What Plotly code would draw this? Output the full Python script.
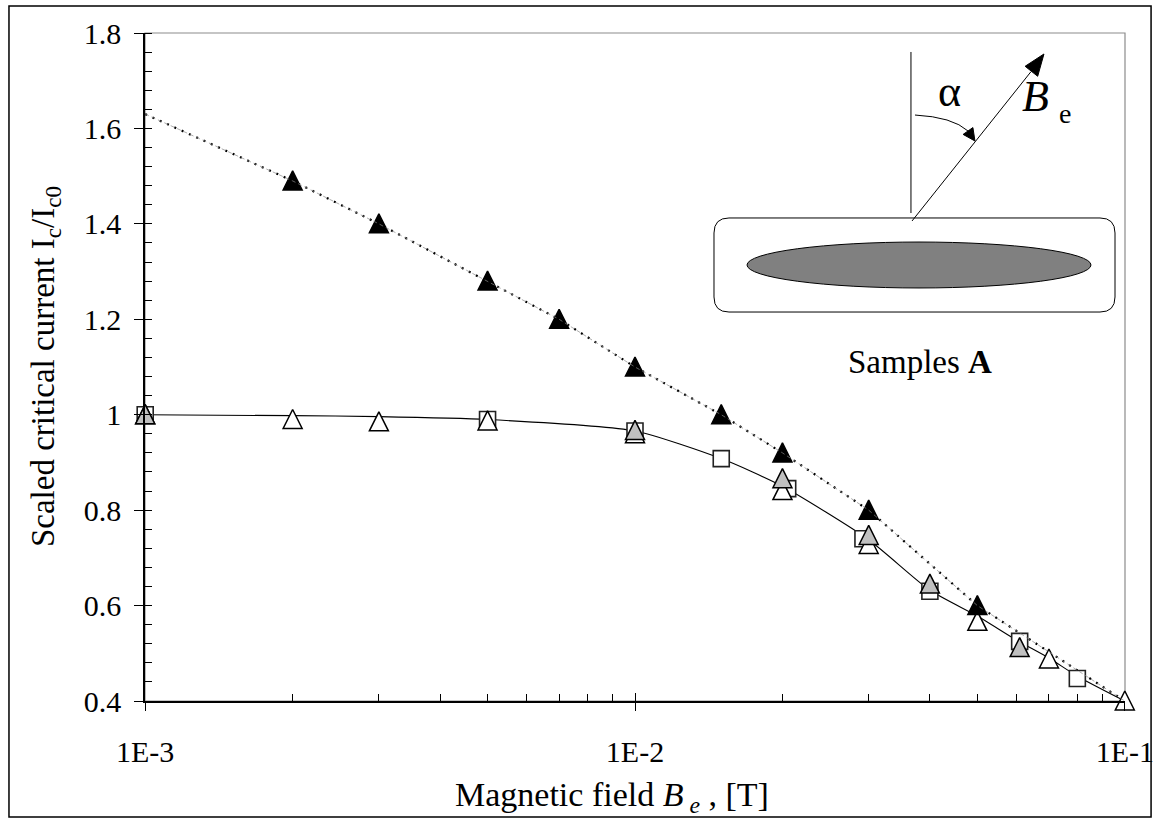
import plotly.graph_objects as go

# ---- measured data ------------------------------------------------------
# alpha-dependent critical current, scaled by the zero-field value
field_black = [2e-3, 3e-3, 5e-3, 7e-3, 1e-2, 1.5e-2, 2e-2, 3e-2, 5e-2]
ic_black = [1.49, 1.40, 1.28, 1.20, 1.10, 1.00, 0.92, 0.80, 0.60]

field_open = [1e-3, 2e-3, 3e-3, 5e-3, 1e-2, 2e-2, 3e-2, 5e-2, 7e-2, 1e-1]
ic_open = [1.00, 0.99, 0.985, 0.987, 0.96, 0.841, 0.728, 0.567, 0.488, 0.40]

field_gray = [1e-3, 1e-2, 2e-2, 3e-2, 4e-2, 6.1e-2]
ic_gray = [1.00, 0.967, 0.866, 0.747, 0.645, 0.512]

field_square = [1e-3, 5e-3, 1e-2, 1.5e-2, 2.05e-2, 2.92e-2, 4e-2, 6.1e-2, 8e-2]
ic_square = [1.00, 0.99, 0.966, 0.908, 0.845, 0.74, 0.63, 0.525, 0.447]

# guide curves
field_fit = [1e-3, 2e-3, 3e-3, 5e-3, 7e-3, 1e-2, 1.5e-2, 2e-2, 3e-2, 5e-2, 1e-1]
ic_fit = [1.63, 1.49, 1.40, 1.28, 1.20, 1.10, 1.00, 0.92, 0.80, 0.60, 0.40]

field_curve = [1e-3, 2e-3, 3e-3, 5e-3, 1e-2, 1.5e-2, 2e-2, 3e-2, 4e-2, 5e-2,
               6e-2, 7e-2, 8e-2, 1e-1]
ic_curve = [1.00, 0.998, 0.996, 0.99, 0.966, 0.908, 0.85, 0.738, 0.632, 0.578,
            0.528, 0.49, 0.452, 0.40]

x_tickvals = [1e-3, 1e-2, 1e-1]
x_ticktext = ["1E-3", "1E-2", "1E-1"]
x_minor = [m * d for d in (1e-3, 1e-2) for m in range(2, 10)]

# ---- styling --------------------------------------------------------------
FONT = "Liberation Serif, Times New Roman, DejaVu Serif, serif"
X_RANGE = [-3.0004, -0.9996]   # log10 decades, padded so edge points stay drawn
Y_RANGE = [0.4, 1.8]
PLOT_H = 668          # plot-area height in px
TRI = 19              # triangle marker size (px)
# arrow-up markers hang below their tip; a shifted twin axis centres them
shift = (TRI / 2 + 0.5) * (Y_RANGE[1] - Y_RANGE[0]) / PLOT_H

fig = go.Figure()

fig.add_trace(go.Scatter(x=field_fit, y=ic_fit, mode="lines", xaxis="x2",
                         line=dict(color="#8a8a8a", width=0.7, dash="4px,3px"),
                         hoverinfo="skip", showlegend=False))
fig.add_trace(go.Scatter(x=field_fit, y=ic_fit, mode="lines",
                         line=dict(color="black", width=2.2, dash="2px,6px"),
                         showlegend=False))
fig.add_trace(go.Scatter(x=field_curve, y=ic_curve, mode="lines",
                         line=dict(color="black", width=1.1, shape="spline",
                                   smoothing=0.6),
                         showlegend=False))

fig.add_trace(go.Scatter(x=field_square, y=ic_square, mode="markers",
                         cliponaxis=False,
                         marker=dict(symbol="square", size=16, color="white",
                                     line=dict(color="#222222", width=1.6)),
                         showlegend=False))

tri_sets = [
    (field_open, ic_open, "white"),
    (field_gray, ic_gray, "#c0c0c0"),
    (field_black, ic_black, "black"),
]
for xs, ys, fill in tri_sets:
    fig.add_trace(go.Scatter(x=xs, y=ys, mode="markers", yaxis="y2",
                             cliponaxis=False,
                             marker=dict(symbol="arrow-up", size=TRI, color=fill,
                                         line=dict(color="black", width=1.5)),
                             showlegend=False))

tick_font = dict(family=FONT, size=30, color="black")

fig.update_layout(
    width=1155, height=821,
    margin=dict(l=145, r=30, t=33, b=120, autoexpand=False),
    paper_bgcolor="white", plot_bgcolor="white",
    font=dict(family=FONT, color="black"),
    xaxis=dict(type="log", range=X_RANGE, tickvals=x_tickvals, ticktext=x_ticktext,
               ticks="outside", ticklen=8, tickwidth=1.2, tickcolor="black",
               showline=True, linecolor="black", linewidth=1.5,
               showgrid=False, zeroline=False, tickfont=tick_font,
               ticklabelstandoff=15, ticklabeloverflow="allow", automargin=False,
               minor=dict(ticks="inside", ticklen=7, tickwidth=1, tickcolor="black",
                          tickvals=x_minor, showgrid=False)),
    xaxis2=dict(type="log", range=X_RANGE, overlaying="x", anchor="y", side="bottom",
                tickvals=x_tickvals, ticks="inside", ticklen=8, tickwidth=1.2,
                tickcolor="black", showticklabels=False, showline=False,
                showgrid=False, zeroline=False, automargin=False),
    yaxis=dict(range=Y_RANGE, tick0=0.4, dtick=0.2, ticks="outside", ticklen=9,
               tickwidth=1.2, tickcolor="black", showline=True, linecolor="black",
               linewidth=1.5, showgrid=False, zeroline=False, tickfont=tick_font,
               ticklabelstandoff=7, automargin=False,
               minor=dict(ticks="inside", ticklen=7, tickwidth=1, tickcolor="black",
                          tick0=0.4, dtick=0.04, showgrid=False)),
    yaxis2=dict(range=[Y_RANGE[0] - shift, Y_RANGE[1] - shift], overlaying="y",
                visible=False, automargin=False),
)

# plot frame (grey top/right edges) and outer border
shapes = [
    dict(type="rect", xref="paper", yref="paper", x0=0, x1=1, y0=0, y1=1,
         line=dict(color="#8c8c8c", width=1.2), layer="below"),
    dict(type="rect", xref="paper", yref="paper", x0=-0.1388, x1=1.0266,
         y0=-0.1736, y1=1.0404, line=dict(color="black", width=1.5)),
]

# inset sketch: sample cross-section and field direction
x0, x1, y0, y1 = 0.5806, 0.9898, 0.5823, 0.7231
rx, ry = 0.0153, 0.0225
rounded = (f"M{x0+rx},{y1} L{x1-rx},{y1} Q{x1},{y1} {x1},{y1-ry} "
           f"L{x1},{y0+ry} Q{x1},{y0} {x1-rx},{y0} L{x0+rx},{y0} "
           f"Q{x0},{y0} {x0},{y0+ry} L{x0},{y1-ry} Q{x0},{y1} {x0+rx},{y1} Z")
shapes += [
    dict(type="path", xref="paper", yref="paper", path=rounded,
         fillcolor="white", line=dict(color="black", width=1)),
    dict(type="circle", xref="paper", yref="paper", x0=0.6143, x1=0.9653,
         y0=0.6183, y1=0.6871, fillcolor="#808080", line=dict(color="black", width=1)),
    dict(type="line", xref="paper", yref="paper", x0=0.7816, x1=0.7816,
         y0=0.7305, y1=0.9716, line=dict(color="black", width=1)),
    dict(type="line", xref="paper", yref="paper", x0=0.7827, y0=0.7186,
         x1=0.9040, y1=0.9420, line=dict(color="black", width=1)),
    dict(type="path", xref="paper", yref="paper",
         path="M0.9173,0.9686 L0.9109,0.9352 L0.8981,0.9502 Z",
         fillcolor="black", line=dict(color="black", width=1)),
    dict(type="path", xref="paper", yref="paper",
         path="M0.7857,0.8772 Q0.8240,0.8743 0.8398,0.8533",
         line=dict(color="black", width=1)),
    dict(type="path", xref="paper", yref="paper",
         path="M0.8469,0.8383 L0.8448,0.8584 L0.8348,0.8482 Z",
         fillcolor="black", line=dict(color="black", width=1)),
]
fig.update_layout(shapes=shapes)

annotations = [
    dict(text="Scaled critical current I<sub>c</sub>/I<sub>c0</sub>",
         x=-0.102, y=0.5, textangle=-90, font=dict(size=33)),
    dict(text="Magnetic field <i>B</i><sub> <i>e</i></sub> , [T]",
         x=0.4765, y=-0.1437, font=dict(size=34)),
    dict(text="α", x=0.8214, y=0.9117, font=dict(size=44)),
    dict(text="<i>B</i>", x=0.9082, y=0.9042, font=dict(size=44)),
    dict(text="e", x=0.9388, y=0.8802, font=dict(size=28)),
    dict(text="Samples <b>A</b>", x=0.7908, y=0.5075, font=dict(size=33)),
]
for a in annotations:
    a.update(xref="paper", yref="paper", showarrow=False,
             xanchor="center", yanchor="middle")
    a["font"].update(family=FONT, color="black")
fig.update_layout(annotations=annotations)

fig.write_html("out.html")
